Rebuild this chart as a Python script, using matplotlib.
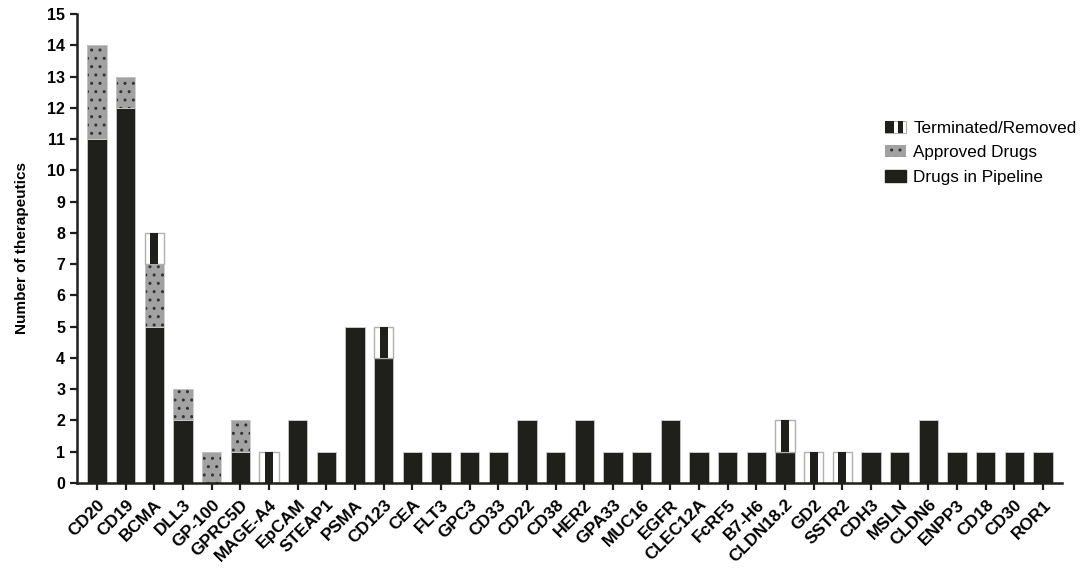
import matplotlib
matplotlib.use("Agg")
import matplotlib.pyplot as plt
import numpy as np
from matplotlib.patches import Rectangle
from matplotlib.legend_handler import HandlerBase

plt.rcParams['font.family'] = ['Liberation Sans', 'DejaVu Sans']

targets = ["CD20", "CD19", "BCMA", "DLL3", "GP-100", "GPRC5D", "MAGE-A4", "EpCAM",
           "STEAP1", "PSMA", "CD123", "CEA", "FLT3", "GPC3", "CD33", "CD22", "CD38",
           "HER2", "GPA33", "MUC16", "EGFR", "CLEC12A", "FcRF5", "B7-H6", "CLDN18.2",
           "GD2", "SSTR2", "CDH3", "MSLN", "CLDN6", "ENPP3", "CD18", "CD30", "ROR1"]
pipeline = [11, 12, 5, 2, 0, 1, 0, 2, 1, 5, 4, 1, 1, 1, 1, 2, 1, 2, 1, 1, 2, 1, 1, 1, 1,
            0, 0, 1, 1, 2, 1, 1, 1, 1]
approved = [3, 1, 2, 1, 1, 1, 0, 0, 0, 0, 0, 0, 0, 0, 0, 0, 0, 0, 0, 0, 0, 0, 0, 0, 0,
            0, 0, 0, 0, 0, 0, 0, 0, 0]
terminated = [0, 0, 1, 0, 0, 0, 1, 0, 0, 0, 1, 0, 0, 0, 0, 0, 0, 0, 0, 0, 0, 0, 0, 0, 1,
              1, 1, 0, 0, 0, 0, 0, 0, 0]

BLACK = "#1f1f1c"
GRAY = "#a2a2a2"
EDGE = "#c8c8c8"

fig = plt.figure(figsize=(10.8, 5.68), dpi=100)
ax = fig.add_axes([0.0713, 0.1496, 0.9117, 0.8258])

x = np.arange(len(targets))
pipe = np.array(pipeline)
appr = np.array(approved)
term = np.array(terminated)
w = 0.68

plt.rcParams['hatch.linewidth'] = 1.0
plt.rcParams['hatch.color'] = "#333333"
ax.bar(x, pipe, width=w, color=BLACK, edgecolor=EDGE, linewidth=0.6, zorder=2)
ax.bar(x, appr, width=w, bottom=pipe, facecolor=GRAY, edgecolor="#333333", linewidth=0,
       hatch='..', zorder=2)
ax.bar(x, appr, width=w, bottom=pipe, facecolor='none', edgecolor=EDGE, linewidth=0.6,
       zorder=2)
tb = pipe + appr
mask = term > 0
ax.bar(x[mask], term[mask], width=w, bottom=tb[mask], color="white", edgecolor="#b0b0b0",
       linewidth=1.0, zorder=2)
ax.bar(x[mask], term[mask], width=w * 0.42, bottom=tb[mask], color=BLACK,
       edgecolor=BLACK, linewidth=0, zorder=3)

ax.set_xlim(-0.7, len(targets) - 1 + 0.65)
ax.set_ylim(0, 15)
ax.set_yticks(range(0, 16))
ax.set_xticks(x)
ax.set_xticklabels(targets, rotation=45, ha='right', rotation_mode='anchor',
                   fontsize=12.5, fontweight='bold')
for lbl in ax.get_yticklabels():
    lbl.set_fontweight('bold')
    lbl.set_fontsize(11.5)
ax.tick_params(axis='both', direction='out', length=5, width=1.6, colors=BLACK,
               labelcolor="black")
ax.tick_params(axis='x', pad=5)
ax.set_ylabel("Number of therapeutics", fontsize=11, fontweight='bold', labelpad=13)

for s in ['top', 'right']:
    ax.spines[s].set_visible(False)
for s in ['left', 'bottom']:
    ax.spines[s].set_linewidth(1.8)
    ax.spines[s].set_color(BLACK)


class TermHandler(HandlerBase):
    def create_artists(self, legend, orig_handle, xdescent, ydescent, width, height,
                       fontsize, trans):
        bg = Rectangle((-xdescent, -ydescent), width, height, facecolor='white',
                       edgecolor='#b0b0b0', linewidth=0.8, transform=trans)
        a = Rectangle((-xdescent, -ydescent), width * 0.45, height, facecolor=BLACK,
                      edgecolor='none', transform=trans)
        b = Rectangle((-xdescent + width * 0.65, -ydescent), width * 0.22, height,
                      facecolor=BLACK, edgecolor='none', transform=trans)
        return [bg, a, b]


h_term = Rectangle((0, 0), 1, 1)
h_appr = Rectangle((0, 0), 1, 1, facecolor=GRAY, edgecolor="#333333", hatch='..',
                   linewidth=0)
h_pipe = Rectangle((0, 0), 1, 1, facecolor=BLACK, edgecolor=BLACK)
leg = ax.legend([h_term, h_appr, h_pipe],
                ["Terminated/Removed", "Approved Drugs", "Drugs in Pipeline"],
                handler_map={h_term: TermHandler()},
                loc='upper left', bbox_to_anchor=(0.805, 0.805), frameon=False,
                fontsize=12.3, handlelength=1.2, handleheight=0.7,
                labelspacing=0.55, handletextpad=0.45)

fig.savefig("out.png", dpi=100)
